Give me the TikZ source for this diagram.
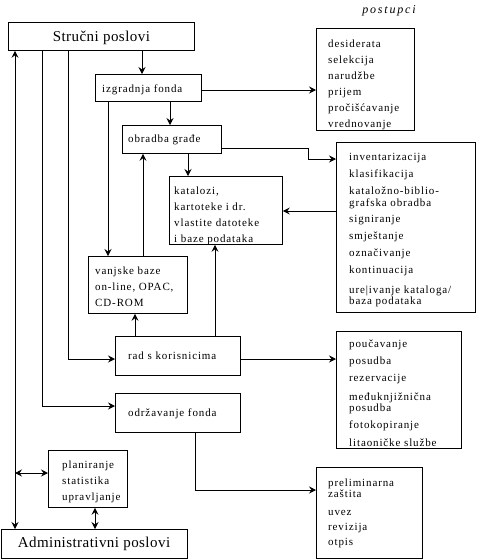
\documentclass[tikz,border=0pt]{standalone}
\usepackage{fontspec}
\setmainfont{Liberation Serif}
\newfontfamily\bodyf[LetterSpace=8]{Liberation Serif}
\newfontfamily\bigf[LetterSpace=3]{Liberation Serif}
\newfontfamily\italf[LetterSpace=15]{Liberation Serif}
\usetikzlibrary{arrows.meta}
\tikzset{
  bx/.style={draw, line width=0.8pt, anchor=north west, inner sep=0pt},
  txt/.style={anchor=north west, inner sep=0pt, align=left, font=\bodyf\fontsize{11}{16}\selectfont},
  bigtxt/.style={inner sep=0pt, font=\bigf\fontsize{15}{18}\selectfont},
  ln/.style={line width=0.8pt},
  arr/.style={line width=0.8pt, -{Stealth[length=7pt,width=7pt,inset=2.5pt]}},
  biarr/.style={line width=0.8pt, {Stealth[length=7pt,width=7pt,inset=2.5pt]}-{Stealth[length=7pt,width=7pt,inset=2.5pt]}}
}
\begin{document}
\begin{tikzpicture}[x=1pt,y=-1pt]
\useasboundingbox (0,0) rectangle (477,560);
% boxes
\node[bx, minimum width=186pt, minimum height=28pt] (stru) at (8,22) {};
\node[bx, minimum width=106pt, minimum height=27pt] (izg) at (95,74) {};
\node[bx, minimum width=99pt, minimum height=28pt] (obr) at (122,125) {};
\node[bx, minimum width=113pt, minimum height=68pt] (kat) at (169,176) {};
\node[bx, minimum width=99pt, minimum height=57pt] (van) at (88,256) {};
\node[bx, minimum width=125pt, minimum height=39pt] (rad) at (115,336) {};
\node[bx, minimum width=125pt, minimum height=39pt] (odr) at (115,393) {};
\node[bx, minimum width=79pt, minimum height=57pt] (pla) at (48,450) {};
\node[bx, minimum width=186pt, minimum height=29pt] (adm) at (1,529) {};
\node[bx, minimum width=98pt, minimum height=102pt] (des) at (316,28) {};
\node[bx, minimum width=139pt, minimum height=170pt] (inv) at (336,142) {};
\node[bx, minimum width=125pt, minimum height=117pt] (pou) at (336,331) {};
\node[bx, minimum width=106pt, minimum height=91pt] (pre) at (316,467) {};
% texts
\node[bigtxt] (tstru) at ([yshift=-1pt]stru.center) {Stručni poslovi};
\node[bigtxt] (tadm) at (94,544) {Administrativni poslovi};
\node[inner sep=0pt, font=\italf\itshape\fontsize{12}{14}\selectfont] (tpost) at (389,11) {postupci};
\node[txt] (tizg) at (102,85) {izgradnja fonda};
\node[txt] (tobr) at (128,135) {obradba građe};
\node[txt] (tkat) at (174,187) {katalozi,\\kartoteke i dr.\\vlastite datoteke\\i baze podataka};
\node[txt] (tvan) at (95,267) {vanjske baze\\on-line, OPAC,\\CD-ROM};
\node[txt] (trad) at (128,352) {rad s korisnicima};
\node[txt] (todr) at (128,409) {održavanje fonda};
\node[txt] (tpla) at (62,461) {planiranje\\statistika\\upravljanje};
\node[txt] (tdes) at (328,40) {desiderata\\selekcija\\narudžbe\\prijem\\pročišćavanje\\vrednovanje};
\node[txt, font=\bodyf\fontsize{11}{16.8}\selectfont] (tinv) at (349,153) {inventarizacija\\klasifikacija\\kataložno-biblio-\\[-4.8pt]grafska obradba\\signiranje\\smještanje\\označivanje\\kontinuacija\\[3pt]ure|ivanje kataloga/\\[-5.8pt]baza podataka};
\node[txt, font=\bodyf\fontsize{11}{17}\selectfont] (tpou) at (349,340) {poučavanje\\posudba\\rezervacije\\[2pt]međuknjižnična\\[-6pt]posudba\\fotokopiranje\\[1pt]litaoničke službe};
\node[txt, font=\bodyf\fontsize{11}{15}\selectfont] (tpre) at (328,479) {preliminarna\\[-4pt]zaštita\\[3pt]uvez\\revizija\\otpis};
% connectors
\draw[arr] (stru.south -| 142,0) -- (izg.north -| 142,0);
\draw[arr] (izg.south -| 170,0) -- (obr.north -| 170,0);
\draw[arr] (izg.east |- 0,90) -- (des.west |- 0,90);
\draw[arr] (obr.south -| 188,0) -- (kat.north -| 188,0);
\draw[arr] (obr.east |- 0,148) -- (308,148) -- (308,159) -- (inv.west |- 0,159);
\draw[arr] (inv.west |- 0,211) -- (kat.east |- 0,211);
\draw[arr] (izg.south -| 108,0) -- (van.north -| 108,0);
\draw[arr] (van.north -| 143,0) -- (obr.south -| 143,0);
\draw[arr] (rad.north -| 135,0) -- (van.south -| 135,0);
\draw[arr] (rad.north -| 215,0) -- (kat.south -| 215,0);
\draw[arr] (stru.south -| 68,0) |- (rad.west |- 0,359);
\draw[arr] (stru.south -| 42,0) |- (odr.west |- 0,406);
\draw[arr] (rad.east |- 0,359) -- (pou.west |- 0,359);
\draw[arr] (odr.south -| 195,0) |- (pre.west |- 0,490);
\draw[biarr] (adm.north -| 15,0) -- (stru.south -| 15,0);
\coordinate (lj) at (15,473);
\draw[biarr] (lj) -- (pla.west |- lj);
\draw[biarr] (pla.south -| 95,0) -- (adm.north -| 95,0);
\end{tikzpicture}
\end{document}
